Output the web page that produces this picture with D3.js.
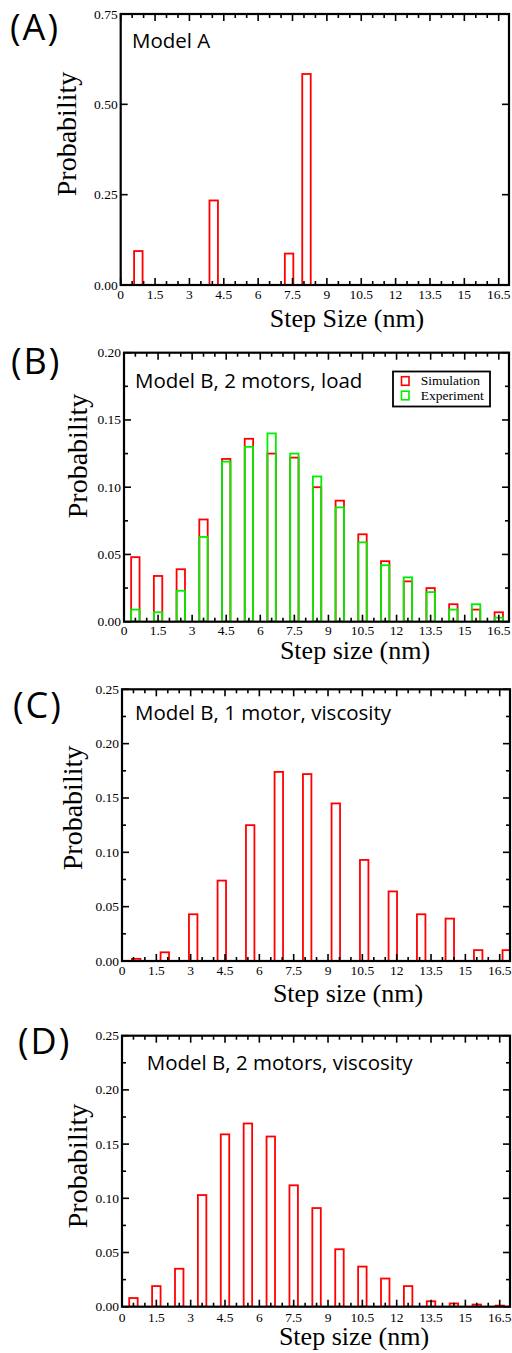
<!DOCTYPE html>
<html>
<head>
<meta charset="utf-8">
<script src="https://cdn.jsdelivr.net/npm/d3@7"></script>
<style>
  html, body { margin: 0; padding: 0; background: #fff; }
  svg { display: block; }
  .tick-label { font-family: "Liberation Serif", "Times New Roman", serif; font-size: 13.5px; fill: #000; }
  .axis-title { font-family: "Liberation Serif", "Times New Roman", serif; font-size: 26px; fill: #000; }
  .y-title { font-family: "Liberation Serif", "Times New Roman", serif; font-size: 28px; fill: #000; }
  .panel-tag { font-family: "Open Sans", sans-serif; font-size: 36px; letter-spacing: 2px; fill: #000; }
  .panel-note { font-family: "Open Sans", sans-serif; font-size: 20.5px; fill: #000; }
  .legend-text { font-family: "Liberation Serif", "Times New Roman", serif; font-size: 13.5px; fill: #000; }
</style>
</head>
<body>
<svg id="chart" width="512" height="1353"></svg>
<script>
// ---------------- data ----------------
const xTicks = [0, 1.5, 3, 4.5, 6, 7.5, 9, 10.5, 12, 13.5, 15, 16.5];
const xTickLabels = ["0", "1.5", "3", "4.5", "6", "7.5", "9", "10.5", "12", "13.5", "15", "16.5"];

// (A) Model A
const aStepSize = [0.77, 4.06, 7.35, 8.11];
const aProbability = [0.094, 0.234, 0.087, 0.584];
const aYTicks = [0, 0.25, 0.5, 0.75];

// (B) Model B, 2 motors, load
const bStepSize = [0.5, 1.5, 2.5, 3.5, 4.5, 5.5, 6.5, 7.5, 8.5, 9.5, 10.5, 11.5, 12.5, 13.5, 14.5, 15.5, 16.5];
const bSimulation = [0.048, 0.034, 0.039, 0.076, 0.121, 0.136, 0.125, 0.122, 0.100, 0.090, 0.065, 0.045, 0.030, 0.025, 0.013, 0.009, 0.007];
const bExperiment = [0.009, 0.007, 0.023, 0.063, 0.119, 0.130, 0.140, 0.125, 0.108, 0.085, 0.059, 0.042, 0.033, 0.022, 0.009, 0.013, 0.003];
const bYTicks = [0, 0.05, 0.10, 0.15, 0.20];
const legendLabels = ["Simulation", "Experiment"];

// (C) Model B, 1 motor, viscosity
const cStepSize = [0.62, 1.87, 3.11, 4.36, 5.60, 6.85, 8.09, 9.34, 10.58, 11.83, 13.07, 14.32, 15.56, 16.81];
const cProbability = [0.002, 0.008, 0.043, 0.074, 0.125, 0.174, 0.172, 0.145, 0.093, 0.064, 0.043, 0.039, 0.010, 0.010];
const cYTicks = [0, 0.05, 0.10, 0.15, 0.20, 0.25];

// (D) Model B, 2 motors, viscosity
const dStepSize = [0.5, 1.5, 2.5, 3.5, 4.5, 5.5, 6.5, 7.5, 8.5, 9.5, 10.5, 11.5, 12.5, 13.5, 14.5, 15.5, 16.5];
const dProbability = [0.008, 0.019, 0.035, 0.103, 0.159, 0.169, 0.157, 0.112, 0.091, 0.053, 0.037, 0.026, 0.019, 0.005, 0.003, 0.002, 0.001];
const dYTicks = [0, 0.05, 0.10, 0.15, 0.20, 0.25];

const panelTags = ["(A)", "(B)", "(C)", "(D)"];
const panelNotes = ["Model A", "Model B, 2 motors, load", "Model B, 1 motor, viscosity", "Model B, 2 motors, viscosity"];
const xTitles = ["Step Size (nm)", "Step size (nm)", "Step size (nm)", "Step size (nm)"];
const yTitle = "Probability";

// ---------------- drawing ----------------
const svg = d3.select("#chart");
const BAR_W = 0.37;
const RED = "#ff0000", GREEN = "#00ee00";

function drawPanel(p, idx) {
  const x = d3.scaleLinear().domain([0, 16.95]).range([p.left, p.right]);
  const y = d3.scaleLinear().domain([0, p.yMax]).range([p.bottom, p.top]);
  const g = svg.append("g");
  const clipId = "clip" + idx;
  g.append("clipPath").attr("id", clipId).append("rect")
    .attr("x", p.left).attr("y", p.top - 2)
    .attr("width", p.right - p.left).attr("height", p.bottom - p.top + 2);

  const bars = g.append("g").attr("clip-path", `url(#${clipId})`);
  p.series.forEach(s => {
    bars.selectAll(null).data(s.values.map((v, i) => ({x: s.xs[i], v})))
      .join("rect")
      .attr("x", d => x(d.x - BAR_W / 2))
      .attr("y", d => y(d.v))
      .attr("width", d => x(d.x + BAR_W / 2) - x(d.x - BAR_W / 2))
      .attr("height", d => y(0) - y(d.v))
      .attr("fill", "none")
      .attr("stroke", s.color)
      .attr("stroke-width", 1.8);
  });

  // minor/major ticks, inward on all four sides
  const xMinor = d3.range(0, 16.95, 0.5).filter(v => Math.abs(v / 1.5 - Math.round(v / 1.5)) > 1e-6);
  const tickG = g.append("g").attr("stroke", "#000").attr("stroke-width", 1.6);
  const addX = (vals, len) => {
    vals.forEach(v => {
      tickG.append("line").attr("x1", x(v)).attr("x2", x(v)).attr("y1", p.bottom).attr("y2", p.bottom - len);
      tickG.append("line").attr("x1", x(v)).attr("x2", x(v)).attr("y1", p.top).attr("y2", p.top + len);
    });
  };
  addX(xTicks, 7);
  addX(xMinor, 4);
  const addY = (vals, len) => {
    vals.forEach(v => {
      tickG.append("line").attr("y1", y(v)).attr("y2", y(v)).attr("x1", p.left).attr("x2", p.left + len);
      tickG.append("line").attr("y1", y(v)).attr("y2", y(v)).attr("x1", p.right).attr("x2", p.right - len);
    });
  };
  addY(p.yTicks, 7);
  if (p.yMinorStep) {
    const yMinor = p.yTicks.slice(0, -1).map(v => v + p.yMinorStep);
    addY(yMinor, 4);
  }

  // frame
  g.append("rect").attr("x", p.left).attr("y", p.top)
    .attr("width", p.right - p.left).attr("height", p.bottom - p.top)
    .attr("fill", "none").attr("stroke", "#000").attr("stroke-width", 2.2);

  // tick labels
  g.selectAll(null).data(xTicks).join("text")
    .attr("class", "tick-label")
    .attr("x", d => x(d)).attr("y", p.bottom + p.xLabelOffset)
    .attr("text-anchor", "middle")
    .text((d, i) => xTickLabels[i]);
  g.selectAll(null).data(p.yTicks).join("text")
    .attr("class", "tick-label")
    .attr("x", p.left - 3).attr("y", d => y(d) + 4.5)
    .attr("text-anchor", "end")
    .text(d => d3.format(".2f")(d));

  // titles
  g.append("text").attr("class", "axis-title")
    .attr("x", p.xTitleX).attr("y", p.xTitleY).attr("text-anchor", "middle")
    .text(xTitles[idx]);
  g.append("text").attr("class", "y-title")
    .attr("transform", `translate(${p.yTitleX},${p.yTitleY}) rotate(-90)`)
    .attr("text-anchor", "middle")
    .text(yTitle);

  g.append("text").attr("class", "panel-tag")
    .attr("x", p.tagX).attr("y", p.tagY).text(panelTags[idx]);
  g.append("text").attr("class", "panel-note")
    .attr("x", p.noteX).attr("y", p.noteY).text(panelNotes[idx]);

  return {x, y, g};
}

const panels = [
  { left: 120.7, right: 509, top: 14, bottom: 285, yMax: 0.75, yTicks: aYTicks, yMinorStep: null,
    series: [{xs: aStepSize, values: aProbability, color: RED}],
    xLabelOffset: 14, xTitleX: 347, xTitleY: 327, yTitleX: 76, yTitleY: 134,
    tagX: 10, tagY: 40, noteX: 132, noteY: 47.7 },
  { left: 124, right: 509, top: 352.7, bottom: 621.7, yMax: 0.2, yTicks: bYTicks, yMinorStep: 0.025,
    series: [{xs: bStepSize, values: bSimulation, color: RED}, {xs: bStepSize, values: bExperiment, color: GREEN}],
    xLabelOffset: 13.5, xTitleX: 355, xTitleY: 659, yTitleX: 87, yTitleY: 456,
    tagX: 11, tagY: 373.5, noteX: 135, noteY: 388.3 },
  { left: 122, right: 510, top: 689.3, bottom: 961, yMax: 0.25, yTicks: cYTicks, yMinorStep: 0.025,
    series: [{xs: cStepSize, values: cProbability, color: RED}],
    xLabelOffset: 14, xTitleX: 348, xTitleY: 1002, yTitleX: 82, yTitleY: 808,
    tagX: 13, tagY: 717.5, noteX: 135, noteY: 720 },
  { left: 122, right: 510, top: 1035.7, bottom: 1306.7, yMax: 0.25, yTicks: dYTicks, yMinorStep: 0.025,
    series: [{xs: dStepSize, values: dProbability, color: RED}],
    xLabelOffset: 15, xTitleX: 354, xTitleY: 1345, yTitleX: 87, yTitleY: 1166,
    tagX: 18, tagY: 1054, noteX: 146.7, noteY: 1070 }
];

panels.forEach((p, i) => drawPanel(p, i));

// legend for panel B
const lg = svg.append("g");
lg.append("rect").attr("x", 393).attr("y", 371.5).attr("width", 97).attr("height", 35)
  .attr("fill", "#fff").attr("stroke", "#000").attr("stroke-width", 1.8);
[RED, GREEN].forEach((c, i) => {
  const cy = 381 + i * 14.5;
  lg.append("rect").attr("x", 401.5).attr("y", cy - 4.3).attr("width", 7.5).attr("height", 8.6)
    .attr("fill", "none").attr("stroke", c).attr("stroke-width", 1.6);
  lg.append("text").attr("class", "legend-text").attr("x", 420.7).attr("y", cy + 4.2).text(legendLabels[i]);
});
</script>
</body>
</html>
